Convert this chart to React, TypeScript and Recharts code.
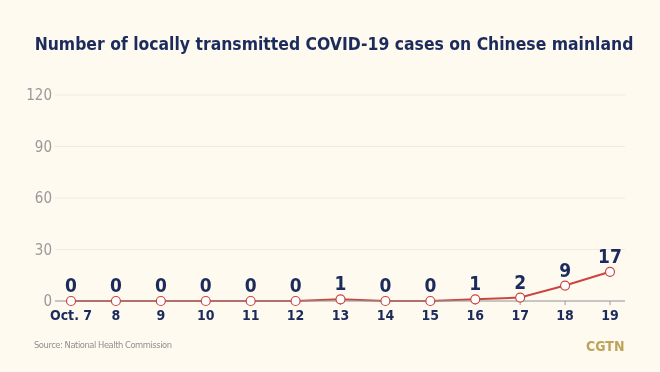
import React from 'react';
import { LineChart, Line, XAxis, YAxis, CartesianGrid, LabelList } from 'recharts';

const categories = ['Oct. 7', '8', '9', '10', '11', '12', '13', '14', '15', '16', '17', '18', '19'];
const cases = [0, 0, 0, 0, 0, 0, 1, 0, 0, 1, 2, 9, 17];
const yTicks = [0, 30, 60, 90, 120];

const data = categories.map((c, i) => ({ day: c, cases: cases[i] }));

const FONT = '"Liberation Sans Narrow", "DejaVu Sans Condensed", sans-serif';

export default function App() {
  return (
    <div style={{ position: 'fixed', left: 0, top: 0, width: 660, height: 372, background: '#fefaf0', fontFamily: FONT }}>
      <div style={{ position: 'absolute', left: -166, top: 32, width: 1000, textAlign: 'center', whiteSpace: 'nowrap', fontSize: 17.4, lineHeight: '24px', fontWeight: 'bold', color: '#1b2b5b', fontFamily: FONT }}>
        Number of locally transmitted COVID-19 cases on Chinese mainland
      </div>
      <LineChart width={660} height={372} data={data} margin={{ top: 95, right: 35, bottom: 41, left: 0 }}>
        <CartesianGrid vertical={false} stroke="#eeeae0" strokeWidth={1} />
        <XAxis
          dataKey="day"
          padding={{ left: 16, right: 15 }}
          stroke="#9a9a9a"
          tickSize={4}
          tickMargin={5}
          tick={{ fill: '#1b2b5b', fontSize: 14, fontWeight: 'bold', fontFamily: FONT }}
          interval={0}
        />
        <YAxis
          domain={[0, 120]}
          ticks={yTicks}
          width={55}
          axisLine={false}
          tickLine={false}
          tickSize={0}
          tickMargin={3}
          tick={{ fill: '#999999', fontSize: 15, fontFamily: FONT }}
        />
        <Line
          type="linear"
          dataKey="cases"
          stroke="#c9463f"
          strokeWidth={2}
          dot={{ r: 4.5, fill: '#ffffff', stroke: '#c9463f', strokeWidth: 1.2 }}
          isAnimationActive={false}
        >
          <LabelList dataKey="cases" position="top" offset={9} fill="#1b2b5b" fontSize={19} fontWeight="bold" fontFamily={FONT} />
        </Line>
      </LineChart>
      <div style={{ position: 'absolute', left: 34, top: 339, fontSize: 9.3, lineHeight: '12px', letterSpacing: -0.45, color: '#8f8f8f', fontFamily: FONT }}>Source: National Health Commission</div>
      <div style={{ position: 'absolute', left: 586, top: 338, fontSize: 14, lineHeight: '16px', fontWeight: 'bold', color: '#bca45a', fontFamily: FONT }}>CGTN</div>
    </div>
  );
}
